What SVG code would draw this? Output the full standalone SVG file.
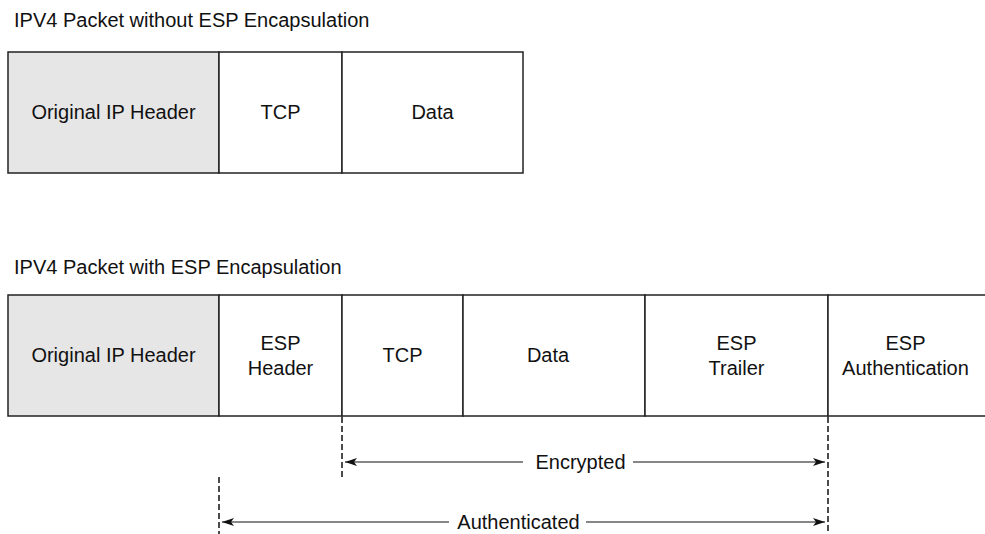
<svg xmlns="http://www.w3.org/2000/svg" width="985" height="534" viewBox="0 0 985 534">
<defs>
<style>
text{font-family:"Liberation Sans",Arial,sans-serif;font-size:20px;fill:#111}
.c{text-anchor:middle}
.box{fill:#fff;stroke:#222;stroke-width:1.5}
.gray{fill:#e6e6e6;stroke:#222;stroke-width:1.5}
.dash{stroke:#111;stroke-width:1.5;stroke-dasharray:6,3;fill:none}
.arr{stroke:#111;stroke-width:1.2;fill:none;marker-end:url(#ah);marker-start:url(#ahs)}
</style>
<marker id="ah" viewBox="0 0 12 8" refX="12" refY="4" markerWidth="12" markerHeight="8" markerUnits="userSpaceOnUse" orient="auto"><path d="M0,0 L12,4 L0,8 L3,4 Z" fill="#111"/></marker>
<marker id="ahs" viewBox="0 0 12 8" refX="0" refY="4" markerWidth="12" markerHeight="8" markerUnits="userSpaceOnUse" orient="auto"><path d="M12,0 L0,4 L12,8 L9,4 Z" fill="#111"/></marker>
</defs>
<text x="14" y="27">IPV4 Packet without ESP Encapsulation</text>
<g id="top-iphdr"><rect class="gray" x="8" y="52" width="211" height="121"/><text class="c" x="113.5" y="119">Original IP Header</text></g>
<g id="top-tcp"><rect class="box" x="219" y="52" width="123" height="121"/><text class="c" x="280.5" y="119">TCP</text></g>
<g id="top-data"><rect class="box" x="342" y="52" width="181" height="121"/><text class="c" x="432.5" y="119">Data</text></g>
<text x="14" y="274">IPV4 Packet with ESP Encapsulation</text>
<g id="bot-iphdr"><rect class="gray" x="8" y="295" width="211" height="121"/><text class="c" x="113.5" y="362">Original IP Header</text></g>
<g id="bot-esphdr"><rect class="box" x="219" y="295" width="123" height="121"/><text class="c" x="280.5" y="350">ESP</text><text class="c" x="280.5" y="375">Header</text></g>
<g id="bot-tcp"><rect class="box" x="342" y="295" width="121" height="121"/><text class="c" x="402.5" y="362">TCP</text></g>
<g id="bot-data"><rect class="box" x="463" y="295" width="182" height="121"/><text class="c" x="548" y="362">Data</text></g>
<g id="bot-trailer"><rect class="box" x="645" y="295" width="183" height="121"/><text class="c" x="736.5" y="350">ESP</text><text class="c" x="736.5" y="375">Trailer</text></g>
<g id="bot-auth"><path class="box" d="M990,295 H828 V416 H990"/><text class="c" x="905.5" y="350">ESP</text><text class="c" x="905.5" y="375">Authentication</text></g>
<g id="connectors">
<line class="dash" x1="342" y1="417" x2="342" y2="479"/>
<line class="dash" x1="828" y1="417" x2="828" y2="534"/>
<line class="dash" x1="219" y1="477" x2="219" y2="534"/>
<line class="arr" x1="345" y1="462" x2="523" y2="462" style="marker-end:none"/>
<line class="arr" x1="633" y1="462" x2="825" y2="462" style="marker-start:none"/>
<line class="arr" x1="222" y1="522" x2="449" y2="522" style="marker-end:none"/>
<line class="arr" x1="586" y1="522" x2="825" y2="522" style="marker-start:none"/>
</g>
<text class="c" x="580.5" y="469">Encrypted</text>
<text class="c" x="518.5" y="529">Authenticated</text>
</svg>
